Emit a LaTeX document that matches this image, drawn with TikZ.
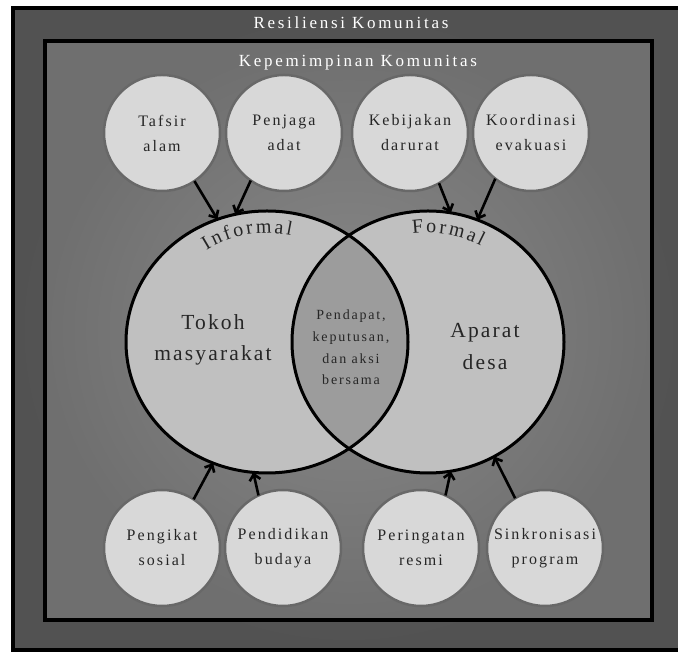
\documentclass[tikz,border=0pt]{standalone}
\usepackage{fontspec}
\usetikzlibrary{shapes.geometric,arrows.meta,decorations.text}
\newfontfamily\dfont{Liberation Serif}
\definecolor{outerin}{HTML}{616161}
\definecolor{outerout}{HTML}{525252}
\definecolor{innerin}{HTML}{898989}
\definecolor{innerout}{HTML}{6F6F6F}
\definecolor{smallfill}{HTML}{D8D8D8}
\definecolor{smallline}{HTML}{686868}
\definecolor{bigfill}{HTML}{C0C0C0}
\definecolor{midfill}{HTML}{9C9C9C}
\definecolor{txt}{HTML}{262626}
\begin{document}
\begin{tikzpicture}[x=1pt,y=1pt,
  smallc/.style={circle, fill=smallfill, draw=smallline, line width=2.5pt, minimum size=116pt, inner sep=0pt, outer sep=0pt, align=center, text=txt, font=\dfont\addfontfeatures{LetterSpace=13}\fontsize{16}{25}\selectfont},
  bigc/.style={ellipse, fill=bigfill, inner sep=0pt, outer sep=0pt},
  bigtext/.style={align=center, text=txt, font=\dfont\addfontfeatures{LetterSpace=10}\fontsize{21.5}{31.5}\selectfont},
  midtext/.style={align=center, text=txt, font=\dfont\addfontfeatures{LetterSpace=13}\fontsize{14}{21.7}\selectfont},
  titletext/.style={anchor=base, text=white, font=\dfont\addfontfeatures{LetterSpace=16}\fontsize{17}{20}\selectfont},
  arr/.style={line width=2.6pt, -{Straight Barb[length=6pt,width=11pt]}, black},
  rim/.style={line width=3pt, black},
  arclabel/.style={decorate, decoration={text effects along path, text={#1}, text align=center,
     text effects/.cd, text along path,
     character widths={inner xsep=1.3pt, inner ysep=0pt, font=\dfont\fontsize{20}{22}\selectfont},
     characters={inner xsep=1.3pt, inner ysep=0pt, text=txt, font=\dfont\fontsize{20}{22}\selectfont}}}
]
\useasboundingbox (0,0) rectangle (678,653);
\fill[white] (0,0) rectangle (678,653);
% outer box
\shade[inner color=outerin, outer color=outerout] (13,3) rectangle (684,645);
\draw[line width=4pt] (13,3) rectangle (684,645);
\node[titletext] (restitle) at (351,624) {Resiliensi Komunitas};
% inner box
\shade[inner color=innerin, outer color=innerout] (45,33) rectangle (652,612);
\draw[line width=4pt] (45,33) rectangle (652,612);
\node[titletext] (leadtitle) at (358,586) {Kepemimpinan Komunitas};
% big circles
\node[bigc, minimum width=282pt, minimum height=262pt] (L) at (267,311) {};
\node[bigc, minimum width=272pt, minimum height=262pt] (R) at (428,311) {};
\begin{scope}
  \clip (267,311) ellipse [x radius=141, y radius=131];
  \fill[midfill] (428,311) ellipse [x radius=136, y radius=131];
\end{scope}
\draw[rim] (L.center) ellipse [x radius=141, y radius=131];
\draw[rim] (R.center) ellipse [x radius=136, y radius=131];
\node[bigtext] (tokoh) at (213,313) {Tokoh\\masyarakat};
\node[bigtext] (aparat) at (485,306.5) {Aparat\\desa};
\node[midtext] (bersama) at (351,305.5) {Pendapat,\\keputusan,\\dan aksi\\bersama};
\path[arclabel=Informal] (267,306) ++(140:114) arc[start angle=140, end angle=60, radius=114];
\path[arclabel=Formal] (428,306) ++(120:114) arc[start angle=120, end angle=40, radius=114];
% small circles
\node[smallc] (t1) at (162,520) {Tafsir\\alam};
\node[smallc] (t2) at (284,520) {Penjaga\\adat};
\node[smallc] (t3) at (410,520) {Kebijakan\\darurat};
\node[smallc] (t4) at (531,520) {Koordinasi\\evakuasi};
\node[smallc] (b1) at (162,105) {Pengikat\\sosial};
\node[smallc] (b2) at (283,105) {Pendidikan\\budaya};
\node[smallc] (b3) at (421,105) {Peringatan\\resmi};
\node[smallc] (b4) at (545,105) {Sinkronisasi\\program};
% arrows
\draw[arr] (t1.-56) -- (L.112);
\draw[arr] (t2.-125) -- (L.104);
\draw[arr] (t3.-60) -- (R.80);
\draw[arr] (t4.-128) -- (R.68);
\draw[arr] (b1.57) -- (L.-114);
\draw[arr] (b2.115) -- (L.-96);
\draw[arr] (b3.65) -- (R.-80);
\draw[arr] (b4.121) -- (R.-60);
\end{tikzpicture}
\end{document}
